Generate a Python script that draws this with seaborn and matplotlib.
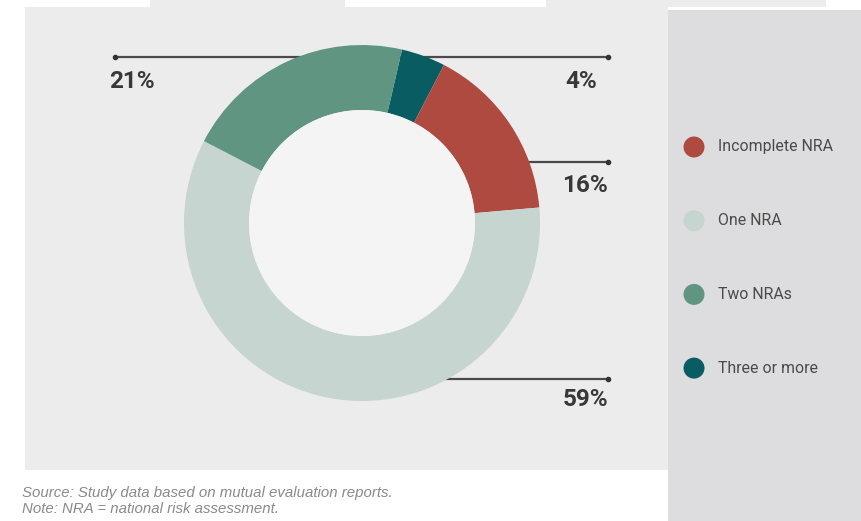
import matplotlib
matplotlib.use("Agg")
import matplotlib.pyplot as plt
from matplotlib.patches import Rectangle, Circle
import seaborn as sns

# NRA coverage shares (percent of assessed countries)
categories = ["Three or more", "Incomplete NRA", "One NRA", "Two NRAs"]
shares = [4, 16, 59, 21]
legend_order = ["Incomplete NRA", "One NRA", "Two NRAs", "Three or more"]
palette = {
    "Incomplete NRA": "#ae4a40",
    "One NRA": "#c6d5cf",
    "Two NRAs": "#5f9581",
    "Three or more": "#095c62",
}
source_lines = [
    "Source: Study data based on mutual evaluation reports.",
    "Note: NRA = national risk assessment.",
]

sns.set_theme(style="white")
plt.rcParams["font.family"] = ["Roboto", "DejaVu Sans"]

W, H = 861, 521
fig = plt.figure(figsize=(W / 100, H / 100), dpi=100)
fig.patch.set_facecolor("white")
ax = fig.add_axes([0, 0, 1, 1])
ax.set_xlim(0, W)
ax.set_ylim(0, H)
ax.axis("off")


def Y(y):
    # top-down pixel row -> axis coordinate
    return H - y


# background panels
ax.add_patch(Rectangle((25, Y(470)), 643, 463, color="#ececec", zorder=0, lw=0))
ax.add_patch(Rectangle((668, Y(521)), 193, 511, color="#dddddf", zorder=0, lw=0))
ax.add_patch(Rectangle((150, Y(7)), 195, 7, color="#ececec", zorder=0, lw=0))
ax.add_patch(Rectangle((546, Y(7)), 280, 7, color="#ececec", zorder=0, lw=0))

# leader lines (drawn beneath the ring)
line_kw = dict(color="#4a4a4a", lw=1.6, zorder=1, solid_capstyle="butt")
dot_kw = dict(color="#333333", s=9, zorder=1)
ax.plot([115, 608], [Y(57), Y(57)], **line_kw)
ax.scatter([115, 608], [Y(57), Y(57)], **dot_kw)
ax.plot([500, 608], [Y(162), Y(162)], **line_kw)
ax.scatter([608], [Y(162)], **dot_kw)
ax.plot([430, 608], [Y(379), Y(379)], **line_kw)
ax.scatter([608], [Y(379)], **dot_kw)

# donut
cx, cy, R, r = 362, 223, 178, 113
wedges, _ = ax.pie(
    shares,
    colors=[palette[c] for c in categories],
    startangle=77,
    counterclock=False,
    center=(cx, Y(cy)),
    radius=R,
    wedgeprops=dict(width=R - r, linewidth=0),
    frame=True,
)
for w in wedges:
    w.set_zorder(2)
ax.add_patch(Circle((cx, Y(cy)), r, color="#f4f4f4", zorder=3, lw=0))
ax.set_xlim(0, W)
ax.set_ylim(0, H)
ax.set_aspect("equal")
ax.axis("off")

# percentage labels
pct = dict(zip(categories, shares))
lbl_kw = dict(fontsize=17.5, fontweight="bold", color="#383838",
              va="center", zorder=4)
ax.text(109, Y(82), f"{pct['Two NRAs']}%", ha="left", **lbl_kw)
ax.text(597, Y(82), f"{pct['Three or more']}%", ha="right", **lbl_kw)
ax.text(608, Y(186), f"{pct['Incomplete NRA']}%", ha="right", **lbl_kw)
ax.text(608, Y(400), f"{pct['One NRA']}%", ha="right", **lbl_kw)

# legend in the side panel
for i, name in enumerate(legend_order):
    yy = Y(147 + i * 73.7)
    ax.add_patch(Circle((694, yy), 10.5, color=palette[name], zorder=4, lw=0))
    ax.text(718, yy, name, fontsize=11.4, color="#4a4a4a",
            va="center", ha="left", zorder=4)

# source note
for i, line in enumerate(source_lines):
    ax.text(22, Y(493 + i * 16), line, fontsize=10.8, style="italic",
            color="#8a8a8a", family=["Liberation Sans", "DejaVu Sans"],
            va="center", ha="left")

fig.savefig("out.png", dpi=100, facecolor="white")
